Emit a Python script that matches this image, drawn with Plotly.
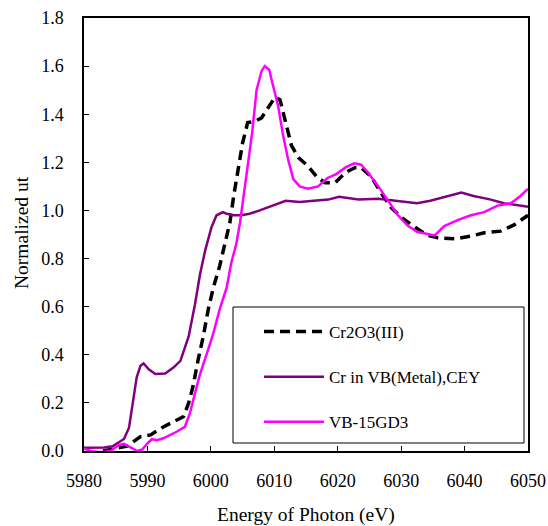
import plotly.graph_objects as go

# Cr2O3(III)
cr2o3_e = [5983, 5986.8, 5988.9, 5990.5, 5992.5, 5994.1, 5995.7, 5996.5, 5997.2, 5998.0,
           5998.8, 5999.6, 6000.4, 6001.4, 6002.2, 6003.0, 6003.6, 6004.3, 6005.0, 6005.8,
           6006.9, 6008.0, 6009.1, 6010.1, 6010.9, 6011.7, 6012.7, 6013.8, 6015.3, 6016.7,
           6018, 6019.6, 6021.2, 6022.7, 6023.7, 6025.3, 6026.9, 6028.5, 6030.1, 6032.2,
           6034.2, 6035.8, 6038.4, 6041, 6043.1, 6045.7, 6047.8, 6050]
cr2o3_y = [0.0, 0.02, 0.06, 0.067, 0.10, 0.122, 0.143, 0.2, 0.27, 0.38,
           0.476, 0.59, 0.68, 0.77, 0.865, 0.95, 1.06, 1.17, 1.28, 1.365,
           1.37, 1.385, 1.43, 1.47, 1.46, 1.38, 1.27, 1.22, 1.185, 1.14,
           1.115, 1.115, 1.157, 1.178, 1.178, 1.14, 1.07, 1.01, 0.97, 0.93,
           0.896, 0.886, 0.882, 0.893, 0.907, 0.914, 0.94, 0.98]

# Cr in VB(Metal),CEY
metal_e = [5980, 5983.2, 5984.5, 5985.5, 5986.3, 5987.1, 5987.6, 5988.3, 5988.9, 5989.4,
           5990.2, 5991.25, 5992.8, 5994.1, 5995.2, 5996.5, 5997.5, 5998.3, 5999.1, 6000.1,
           6000.9, 6001.9, 6002.5, 6003.5, 6004.8, 6006.1, 6007.7, 6008.7, 6010, 6011.8,
           6014, 6016.5, 6018.5, 6020.2, 6023.3, 6026.4, 6029.5, 6032.5, 6034.6, 6037.3,
           6039.5, 6041.4, 6044, 6046.2, 6048.3, 6050]
metal_y = [0.014, 0.015, 0.02, 0.037, 0.05, 0.097, 0.18, 0.305, 0.354, 0.364,
           0.34, 0.32, 0.322, 0.347, 0.375, 0.476, 0.61, 0.736, 0.833, 0.93,
           0.98, 0.993, 0.986, 0.98, 0.98, 0.986, 1.0, 1.01, 1.02, 1.04,
           1.035, 1.04, 1.045, 1.057, 1.046, 1.049, 1.04, 1.03, 1.04, 1.06,
           1.074, 1.06, 1.046, 1.03, 1.02, 1.015]

# VB-15GD3
vb_e = [5980, 5981.1, 5982.6, 5984.2, 5985.5, 5986.3, 5987.1, 5987.6, 5988.4, 5989.2,
        5990, 5990.7, 5991.5, 5992.5, 5993.6, 5994.6, 5995.9, 5996.7, 5997.5, 5998.3,
        5999.3, 6000.4, 6001.4, 6002.5, 6003.2, 6004, 6004.6, 6005.2, 6005.7, 6006.5,
        6007.2, 6008.0, 6008.5, 6009.2, 6009.7, 6010.6, 6011.4, 6012.2, 6013.0, 6014,
        6015.3, 6016.9, 6018.4, 6019.7, 6021.3, 6022.6, 6023.7, 6024.8, 6026.4, 6027.9,
        6029.5, 6031.1, 6032.6, 6035.3, 6036.8, 6038.9, 6041, 6043.1, 6045.2, 6047.3,
        6048.8, 6050]
vb_y = [0.01, 0.0, -0.005, 0.0, 0.025, 0.03, 0.018, 0.01, 0.0, 0.007,
        0.032, 0.049, 0.045, 0.053, 0.067, 0.08, 0.10, 0.157, 0.24, 0.32,
        0.40, 0.49, 0.59, 0.68, 0.78, 0.86, 0.95, 1.06, 1.157, 1.32,
        1.50, 1.58, 1.60, 1.585, 1.53, 1.435, 1.31, 1.21, 1.13, 1.10,
        1.09, 1.10, 1.135, 1.15, 1.18, 1.196, 1.19, 1.157, 1.10, 1.04,
        0.98, 0.935, 0.91, 0.896, 0.935, 0.96, 0.98, 0.993, 1.02, 1.03,
        1.06, 1.09]

x_ticks = [5980, 5990, 6000, 6010, 6020, 6030, 6040, 6050]
y_ticks = [0.0, 0.2, 0.4, 0.6, 0.8, 1.0, 1.2, 1.4, 1.6, 1.8]

FONT = "Liberation Serif"
TICKF = dict(family=FONT, size=18, color="black")
TITLEF = dict(family=FONT, size=19.5, color="black")
LEGF = dict(family=FONT, size=17, color="black")

fig = go.Figure()
fig.add_trace(go.Scatter(x=cr2o3_e, y=cr2o3_y, mode="lines", name="Cr2O3(III)",
                         legendgroup="a",
                         line=dict(color="black", width=3.5, dash="10px,6px")))
fig.add_trace(go.Scatter(x=metal_e, y=metal_y, mode="lines", name="Cr in VB(Metal),CEY",
                         legendgroup="b",
                         line=dict(color="#800080", width=2.5)))
fig.add_trace(go.Scatter(x=vb_e, y=vb_y, mode="lines", name="VB-15GD3",
                         legendgroup="c",
                         line=dict(color="#FF00FF", width=2.5)))

L, R, T, B = 84, 528, 18, 451
W, H = 548, 526

def px(xp):
    return (xp - L) / (R - L)

def py(yp):
    return (B - yp) / (B - T)

fig.add_shape(type="rect", xref="paper", yref="paper",
              x0=px(233), x1=px(524), y0=py(443), y1=py(307),
              line=dict(color="black", width=1), fillcolor="white", layer="below")

fig.add_annotation(text="Energy of Photon (eV)", xref="paper", yref="paper",
                   x=px(306), y=py(515), showarrow=False,
                   xanchor="center", yanchor="middle", font=TITLEF)
fig.add_annotation(text="Normalized ut", xref="paper", yref="paper",
                   x=px(21), y=py(233), showarrow=False, textangle=-90,
                   xanchor="center", yanchor="middle", font=TITLEF)

fig.update_layout(
    width=W, height=H,
    margin=dict(l=L, r=W - R, t=T, b=H - B),
    paper_bgcolor="white", plot_bgcolor="rgba(0,0,0,0)",
    font=TICKF,
    showlegend=True,
    legend=dict(x=px(259), y=py(314), xanchor="left", yanchor="top",
                bgcolor="rgba(0,0,0,0)", borderwidth=0, font=LEGF,
                itemwidth=60, tracegroupgap=20),
    xaxis=dict(range=[5980, 6050], tickvals=x_ticks, ticktext=[str(v) for v in x_ticks],
               ticks="inside", ticklen=5, tickcolor="black", tickfont=TICKF,
               showline=True, linecolor="black", linewidth=1.5, mirror=True,
               showgrid=False, zeroline=False, automargin=False,
               ticklabelstandoff=13),
    yaxis=dict(range=[0, 1.8], tickvals=y_ticks, ticktext=[f"{v:.1f}" for v in y_ticks],
               ticks="inside", ticklen=5, tickcolor="black", tickfont=TICKF,
               showline=True, linecolor="black", linewidth=1.5, mirror=True,
               showgrid=False, zeroline=False, automargin=False,
               ticklabelstandoff=15),
)

fig.write_html("out.html", config={"displayModeBar": False},
               post_script="document.body.style.margin='0';")
